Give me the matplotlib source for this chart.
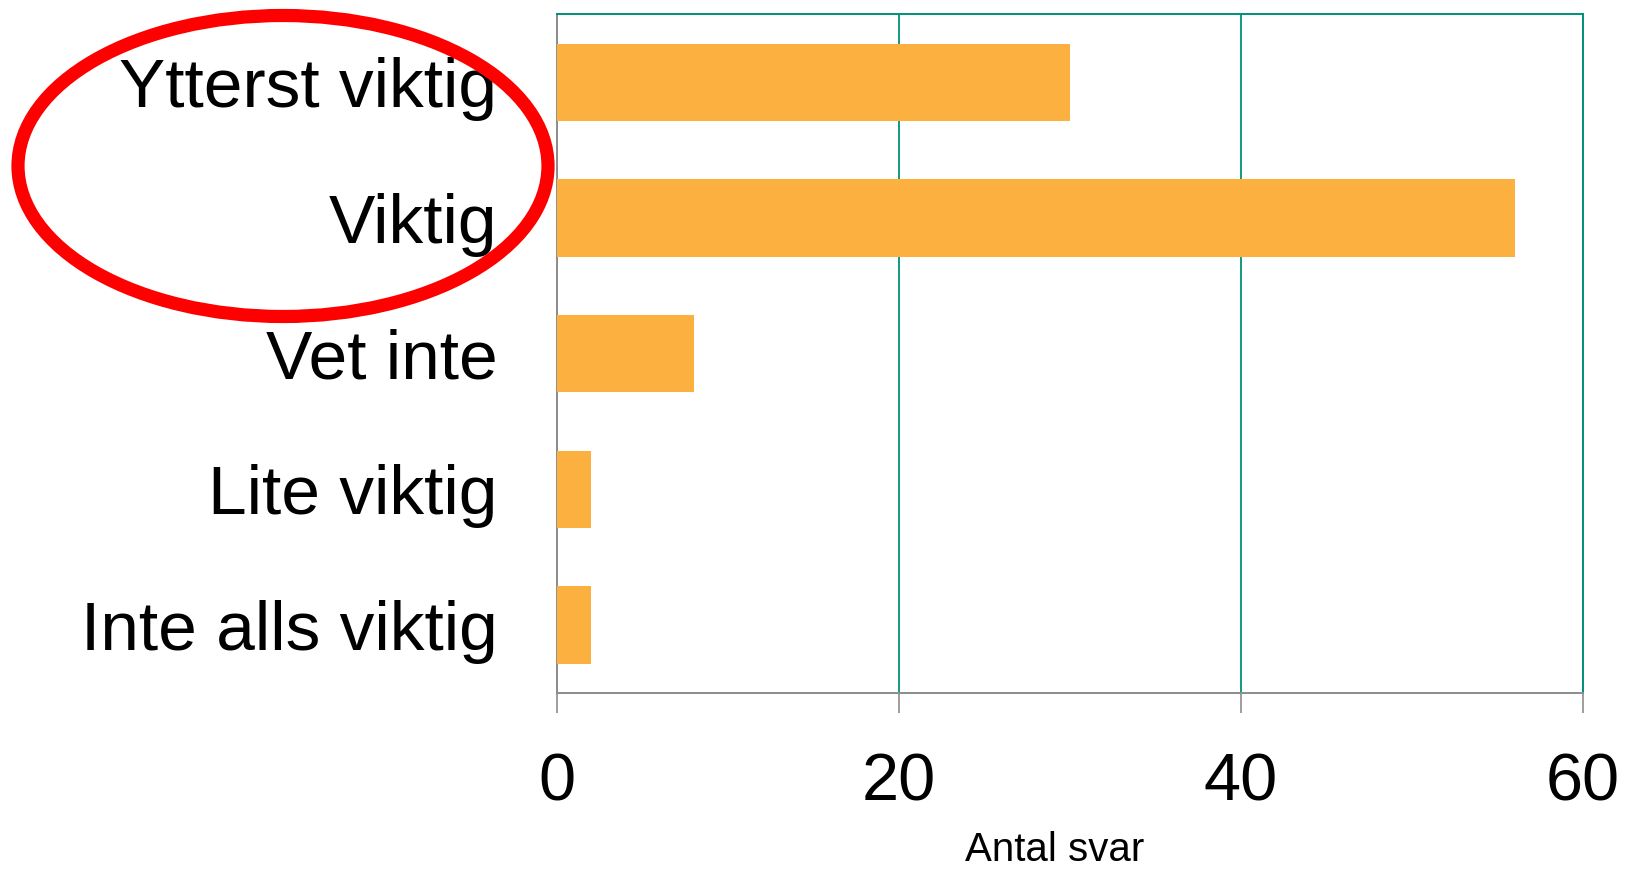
import matplotlib.pyplot as plt
from matplotlib.patches import Ellipse

# Data (top to bottom as shown)
categories = ["Ytterst viktig", "Viktig", "Vet inte", "Lite viktig", "Inte alls viktig"]
antal_svar = [30, 56, 8, 2, 2]
x_ticks = [0, 20, 40, 60]

bar_color = "#FBB040"
teal = "#00907A"
gray = "#8C8C8C"

plt.rcParams['font.family'] = ['Liberation Sans', 'DejaVu Sans']

fig = plt.figure(figsize=(16.26, 8.73), dpi=100)
ax = fig.add_axes([0.3426, 0.2062, 0.6310, 0.7772])

y_pos = list(range(len(categories)))
ax.barh(y_pos, antal_svar, height=0.57, color=bar_color, zorder=3)

ax.set_ylim(len(categories) - 0.5, -0.5)
ax.set_xlim(0, 60)
ax.set_yticks(y_pos)
ax.set_yticklabels(categories, fontsize=50)
ax.set_xticks(x_ticks)
ax.set_xticklabels([str(t) for t in x_ticks], fontsize=48)

ax.tick_params(axis='y', length=0, pad=43)
ax.tick_params(axis='x', length=14.5, width=1.2, color=gray, pad=28)

# Gitterlinjer och ramar
ax.grid(axis='x', color=teal, linewidth=1.3, zorder=1)
ax.spines['top'].set_color(teal)
ax.spines['right'].set_color(teal)
ax.spines['left'].set_color(gray)
ax.spines['bottom'].set_color(gray)
for s in ax.spines.values():
    s.set_linewidth(1.4)

ax.set_xlabel("Antal svar", fontsize=29)
ax.xaxis.set_label_coords(0.485, -0.203)

# Röd ellips runt de två översta kategorierna
ell = Ellipse((283 / 1626, 1 - 166 / 873), 530 / 1626, 301 / 873,
              transform=fig.transFigure, fill=False, edgecolor="#FF0000",
              linewidth=9.5, zorder=10)
fig.add_artist(ell)

fig.savefig("out.png", dpi=100)
